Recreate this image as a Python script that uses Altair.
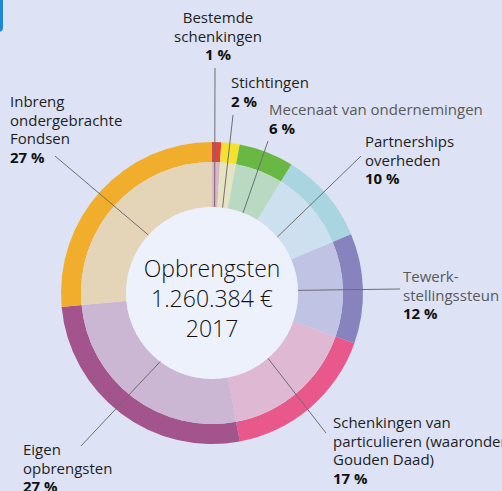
import math
import altair as alt
import pandas as pd

# ---- data ----
categories = [
    "Bestemde schenkingen",
    "Stichtingen",
    "Mecenaat van ondernemingen",
    "Partnerships overheden",
    "Tewerkstellingssteun",
    "Schenkingen van particulieren",
    "Eigen opbrengsten",
    "Inbreng ondergebrachte Fondsen",
]
label_text = [
    "Bestemde\nschenkingen",
    "Stichtingen",
    "Mecenaat van ondernemingen",
    "Partnerships\noverheden",
    "Tewerk-\nstellingssteun",
    "Schenkingen van\nparticulieren (waaronder\nGouden Daad)",
    "Eigen\nopbrengsten",
    "Inbreng\nondergebrachte\nFondsen",
]
percent = [1, 2, 6, 10, 12, 17, 27, 27]
center_lines = ["Opbrengsten", "1.260.384 €", "2017"]

# ---- styles / layout ----
dark_colors = ["#e2433b", "#f3e22e", "#69b843", "#a9d5e0", "#8783bf", "#e8588a", "#a4548c", "#f1ae2c"]
light_colors = ["#ddb5c4", "#e6e3c2", "#b9d9c3", "#cce0ef", "#c0c3e3", "#dfb8d3", "#cbb6d3", "#e5d5b8"]
name_colors = ["#1e1e1e", "#1e1e1e", "#5a5a5a", "#1e1e1e", "#5a5a5a", "#1e1e1e", "#1e1e1e", "#1e1e1e"]
label_pos = [(218, 23, "center"), (231, 88, "left"), (269, 115, "left"), (365, 147, "left"),
             (403, 282, "left"), (333, 428, "left"), (23, 455, "left"), (10, 107, "left")]
leader_end = [(215, 68), (233, 115), (268, 141), (361, 156), (400, 289), (326, 433), (81, 446), (55, 156)]
CX, CY = 212, 293
R_OUT, R_MID, R_IN = 151, 131, 86
LH = 18.6
FONT = "Open Sans"
BG = "#dde3f4"

total = sum(percent)
rows = []
cum = 0
for i, (c, p) in enumerate(zip(categories, percent)):
    mid = (cum + p / 2) / total * 2 * math.pi
    cum += p
    nlines = label_text[i].count("\n") + 1
    lx, ly, al = label_pos[i]
    rows.append(dict(
        key=c, idx=i, value=p, name=label_text[i], pct=f"{p} %",
        dark=dark_colors[i], light=light_colors[i],
        x1=CX + R_IN * math.sin(mid), y1=CY - R_IN * math.cos(mid),
        x2=leader_end[i][0], y2=leader_end[i][1],
        lx=lx, ly=ly, py=ly + nlines * LH, align=al, tcolor=name_colors[i],
    ))
df = pd.DataFrame(rows)

base = alt.Chart(df)
theta = alt.Theta("value:Q", stack=True)
order = alt.Order("idx:Q")

outer = base.mark_arc(radius=R_OUT, radius2=R_MID).encode(
    theta=theta, order=order,
    color=alt.Color("dark:N", scale=None),
    x=alt.value(CX), y=alt.value(CY),
)
inner = base.mark_arc(radius=R_MID, radius2=R_IN).encode(
    theta=theta, order=order,
    color=alt.Color("light:N", scale=None),
    x=alt.value(CX), y=alt.value(CY),
)
one = pd.DataFrame({"a": [0]})
center = alt.Chart(one).mark_arc(radius=R_IN, theta=0, theta2=2 * math.pi, color="#edf1fb").encode(
    x=alt.value(CX), y=alt.value(CY)
)
tab = alt.Chart(one).mark_rect(color="#1e88d6", cornerRadius=4).encode(
    x=alt.value(-8), x2=alt.value(3), y=alt.value(-8), y2=alt.value(32)
)

lines = base.mark_rule(color="#6e6e6e", strokeWidth=1).encode(
    x=alt.X("x1:Q", scale=None), y=alt.Y("y1:Q", scale=None),
    x2="x2:Q", y2="y2:Q",
)

text_layers = []
for al in ["left", "center"]:
    sub = base.transform_filter(alt.datum.align == al)
    text_layers.append(sub.mark_text(align=al, baseline="alphabetic", font=FONT, fontSize=15,
                                     lineBreak="\n", lineHeight=LH).encode(
        x=alt.X("lx:Q", scale=None), y=alt.Y("ly:Q", scale=None), text="name:N",
        color=alt.Color("tcolor:N", scale=None)))
    text_layers.append(sub.mark_text(align=al, baseline="alphabetic", font=FONT, fontSize=15,
                                     fontWeight="bold", color="#111111").encode(
        x=alt.X("lx:Q", scale=None), y=alt.Y("py:Q", scale=None), text="pct:N"))

cdf = pd.DataFrame({"t": center_lines, "i": list(range(len(center_lines)))})
ctext = alt.Chart(cdf).mark_text(align="center", baseline="alphabetic", font=FONT, fontSize=23,
                                 fontWeight=300, color="#111111").encode(
    x=alt.value(CX), y=alt.Y("i:Q", scale=alt.Scale(domain=[0, 2], range=[277, 337]), axis=None),
    text="t:N",
)

chart = alt.layer(outer, inner, center, tab, lines, *text_layers, ctext).properties(
    width=502, height=491, autosize=alt.AutoSizeParams(type="none"), padding=0, background=BG
).configure_view(stroke=None)

chart.save("out.html", embed_options={"renderer": "svg", "actions": False})
